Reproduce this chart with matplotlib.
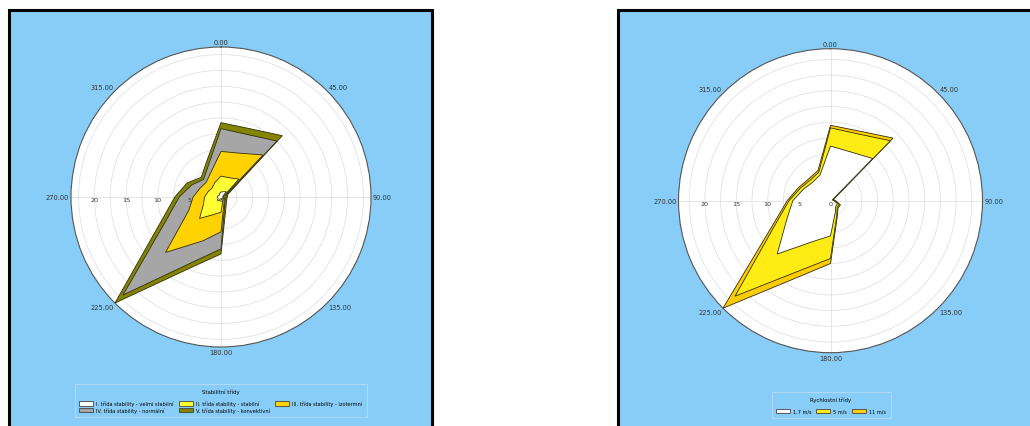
import matplotlib
matplotlib.use("Agg")

import matplotlib.pyplot as plt
import numpy as np
from matplotlib.patches import Patch, Rectangle


FIG_W, FIG_H = 1030, 427
PANEL_COLOR = "#87cdf7"

DIRECTIONS_DEG = [0, 22.5, 45, 67.5, 90, 112.5, 135, 157.5,
                  180, 202.5, 225, 247.5, 270, 292.5, 315, 337.5]

ANGLE_TICKS = [0, 45, 90, 135, 180, 225, 270, 315]
ANGLE_LABELS = ["0.00", "45.00", "90.00", "135.00",
                "180.00", "225.00", "270.00", "315.00"]
RADIAL_LABELS = [0, 5, 10, 15, 20]

# stability classes, frequency per direction
STABILITY_TITLE = "Stabilitní třídy"
STABILITY_LABELS = [
    "I. třída stability - velmi stabilní",
    "II. třída stability - stabilní",
    "III. třída stability - izotermní",
    "IV. třída stability - normální",
    "V. třída stability - konvektivní",
]
STABILITY_COLORS = ["#ffffff", "#ffff33", "#ffd200", "#a6a6a6", "#848400"]
CLASS_I = [0.8, 0.9, 1.2, 0.3, 0.3, 0.3, 0.3, 0.3, 0.5, 0.5, 0.8, 0.5, 0.6, 0.5, 0.4, 0.6]
CLASS_II = [2.5, 2.4, 2.8, 0.2, 0.1, 0.1, 0.2, 0.4, 1.9, 2.5, 4.0, 2.5, 2.0, 1.7, 1.6, 1.9]
CLASS_III = [3.9, 4.2, 5.4, 0.2, 0.2, 0.2, 0.2, 0.5, 3.1, 4.5, 7.6, 2.5, 1.8, 1.4, 1.3, 1.7]
CLASS_IV = [3.6, 3.2, 3.1, 0.2, 0.2, 0.2, 0.2, 0.3, 2.7, 3.5, 9.5, 3.8, 2.2, 1.4, 0.6, 1.1]
CLASS_V = [0.95, 1.0, 1.2, 0.3, 0.2, 0.2, 0.3, 0.5, 0.8, 1.0, 1.8, 1.0, 0.7, 0.8, 0.5, 0.7]

# wind speed classes, frequency per direction
SPEED_TITLE = "Rychlostní třídy"
SPEED_LABELS = ["1.7 m/s", "5 m/s", "11 m/s"]
SPEED_COLORS = ["#ffffff", "#ffec14", "#ffcc00"]
SPEED_1_7 = [8.7, 8.4, 9.5, 0.3, 0.5, 1.2, 1.2, 2.0, 5.6, 7.0, 12.0, 7.5, 6.0, 4.7, 4.1, 4.4]
SPEED_5 = [2.9, 3.1, 4.0, 0.1, 0.2, 0.3, 0.3, 0.6, 3.6, 4.9, 9.5, 1.9, 0.6, 0.5, 0.5, 0.5]
SPEED_11 = [0.4, 0.5, 0.6, 0.1, 0.1, 0.2, 0.2, 0.2, 0.8, 1.2, 2.7, 0.5, 0.3, 0.3, 0.3, 0.3]


def px_box(left, top, width, height):
    """
    Convert a pixel box (top-left origin) to figure fractions.
    """

    return [left / FIG_W, 1 - (top + height) / FIG_H, width / FIG_W, height / FIG_H]


def draw_panel(fig, left, top, width, height):
    """
    Draw the light blue framed panel behind one rose.
    """

    x, y, w, h = px_box(left, top, width, height)
    fig.patches.append(
        Rectangle(
            (x, y), w, h,
            transform=fig.transFigure,
            facecolor=PANEL_COLOR,
            edgecolor="black",
            linewidth=2.2,
            zorder=-5,
        )
    )


def label_angles(ax, rmax):
    """
    Write the direction labels just outside the rim, anchored away from it.
    """

    for angle, text in zip(ANGLE_TICKS, ANGLE_LABELS):
        rad = np.deg2rad(angle)
        sx, cy = np.sin(rad), np.cos(rad)
        ha = "left" if sx > 0.1 else "right" if sx < -0.1 else "center"
        va = "bottom" if cy > 0.1 else "top" if cy < -0.1 else "center"
        ax.text(rad, rmax * 1.012, text, fontsize=4.8, color="#333333",
                ha=ha, va=va, clip_on=False)


def plot_rose(ax, series, colors):
    """
    Draw stacked direction frequencies as filled polygons on a polar axis.
    """

    theta = np.deg2rad(DIRECTIONS_DEG + [DIRECTIONS_DEG[0]])
    cumulative = np.cumsum(np.array(series), axis=0)
    rmax = cumulative[-1].max()

    for values, color in reversed(list(zip(cumulative, colors))):
        r = np.append(values, values[0])
        ax.fill(theta, r, facecolor=color, edgecolor="#2f2f10",
                linewidth=0.6, zorder=3)

    ax.set_theta_zero_location("N")
    ax.set_theta_direction(-1)
    ax.set_ylim(0, rmax)
    ax.set_yticks(np.arange(2.5, rmax, 2.5))
    ax.set_yticklabels([])
    ax.set_thetagrids(ANGLE_TICKS, labels=[""] * len(ANGLE_TICKS))
    ax.grid(color="#e2e2e2", linewidth=0.6)
    ax.spines["polar"].set_color("#555555")
    ax.spines["polar"].set_linewidth(0.8)
    ax.set_facecolor("white")

    # only the four main spokes are drawn
    for i, line in enumerate(ax.xaxis.get_gridlines()):
        if i % 2:
            line.set_visible(False)

    label_angles(ax, rmax)

    for value in RADIAL_LABELS:
        ax.text(np.deg2rad(270), value, str(value), fontsize=4.6,
                ha="center", va="top", color="#333333", zorder=4)


def add_legend(fig, labels, colors, order, title, box, ncol):
    """
    Place a boxed legend with coloured swatches below a rose.
    """

    handles = [
        Patch(facecolor=colors[i], edgecolor="#444444", linewidth=0.6, label=labels[i])
        for i in order
    ]
    leg = fig.legend(
        handles=handles,
        loc="center",
        bbox_to_anchor=box,
        mode="expand",
        ncol=ncol,
        title=title,
        fontsize=3.6,
        title_fontsize=3.8,
        frameon=True,
        fancybox=False,
        handlelength=2.8,
        handleheight=1.0,
        handletextpad=0.6,
        columnspacing=1.0,
        labelspacing=0.25,
        borderpad=0.9,
    )
    leg._legend_box.sep = 5
    leg.get_frame().set_facecolor(PANEL_COLOR)
    leg.get_frame().set_edgecolor("#b8def7")
    leg.get_frame().set_linewidth(0.8)


def main() -> None:
    fig = plt.figure(figsize=(FIG_W / 100, FIG_H / 100), dpi=100)
    fig.patch.set_facecolor("white")

    draw_panel(fig, 8.5, 11, 423, 430)
    draw_panel(fig, 618, 11, 430, 430)

    ax_left = fig.add_axes(px_box(71, 48, 300, 300), projection="polar")
    plot_rose(
        ax_left,
        [CLASS_I, CLASS_II, CLASS_III, CLASS_IV, CLASS_V],
        STABILITY_COLORS,
    )

    ax_right = fig.add_axes(px_box(678.5, 49.7, 304, 304), projection="polar")
    plot_rose(ax_right, [SPEED_1_7, SPEED_5, SPEED_11], SPEED_COLORS)

    add_legend(
        fig, STABILITY_LABELS, STABILITY_COLORS, [0, 3, 1, 4, 2],
        STABILITY_TITLE, px_box(72, 386, 297, 31), ncol=3,
    )
    add_legend(
        fig, SPEED_LABELS, SPEED_COLORS, [0, 1, 2],
        SPEED_TITLE, px_box(769, 393, 124, 26), ncol=3,
    )

    fig.savefig("out.png", dpi=100)
    plt.close(fig)


if __name__ == "__main__":
    main()
